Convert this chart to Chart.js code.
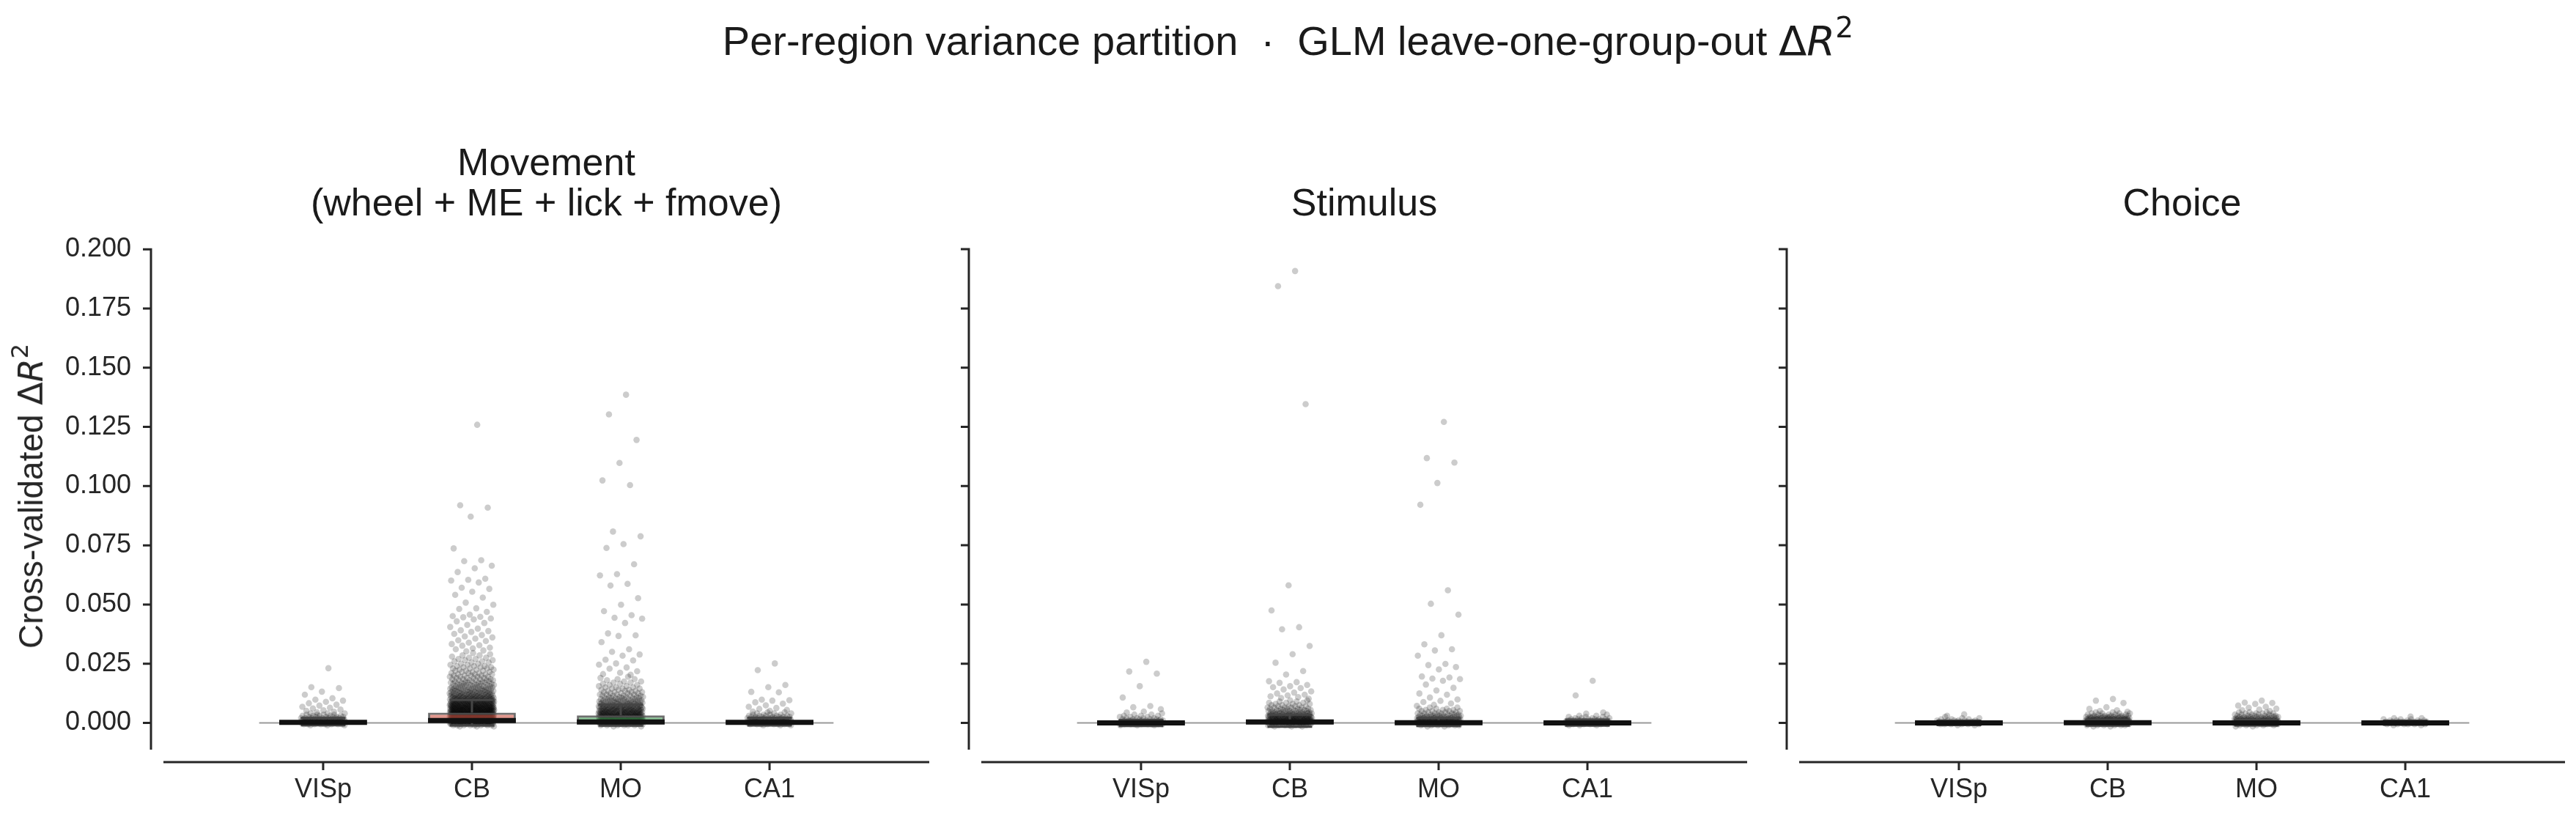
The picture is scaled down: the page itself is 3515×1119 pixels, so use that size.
<!DOCTYPE html>
<html>
<head>
<meta charset="utf-8">
<script src="https://cdn.jsdelivr.net/npm/chart.js@4.4.1/dist/chart.umd.min.js"></script>
<style>
html,body{margin:0;padding:0;background:#fff;}
#fig{position:relative;width:3515px;height:1119px;overflow:hidden;background:#fff;font-family:"Liberation Sans",Arial,Helvetica,sans-serif;color:#1a1a1a;}
canvas{position:absolute;top:0;display:block;}
#sup{position:absolute;left:0;top:28px;width:3515px;text-align:center;font-size:56px;line-height:1;white-space:pre;z-index:2;}
#ylab{position:absolute;left:42px;top:677px;font-size:46px;line-height:1;white-space:pre;transform:translate(-50%,-50%) rotate(-90deg);z-index:2;color:#262626;}
.m{font-family:"DejaVu Sans",sans-serif;}
.m sup{font-size:70%;position:relative;top:-0.62em;vertical-align:baseline;line-height:0;}
</style>
</head>
<body>
<div id="fig">
  <canvas id="p0" width="1283" height="1119" style="left:0px"></canvas>
  <canvas id="p1" width="1283" height="1119" style="left:1116px"></canvas>
  <canvas id="p2" width="1283" height="1119" style="left:2232px"></canvas>
  <div id="sup">Per-region variance partition  ·  GLM leave-one-group-out <span class="m">Δ<i>R</i><sup>2</sup></span></div>
  <div id="ylab">Cross-validated <span class="m">Δ<i>R</i><sup>2</sup></span></div>
</div>
<script>
// ---------------- data ----------------
const regions = ['VISp', 'CB', 'MO', 'CA1'];
const panelTitles = [['Movement', '(wheel + ME + lick + fmove)'], 'Stimulus', 'Choice'];
const yTickValues = [0.000, 0.025, 0.050, 0.075, 0.100, 0.125, 0.150, 0.175, 0.200];

// box statistics (q1, median, q3, lower/upper whisker)
const moveQ1  = [-0.0002, 0.0000, -0.0002, -0.0002];
const moveMed = [ 0.0002, 0.0010,  0.0004,  0.0002];
const moveQ3  = [ 0.0007, 0.0043,  0.0032,  0.0008];
const moveLo  = [-0.0010, -0.0011, -0.0012, -0.0011];
const moveHi  = [ 0.0021, 0.0097,  0.0077,  0.0022];

const stimQ1  = [-0.0005, -0.0005, -0.0005, -0.0005];
const stimMed = [ 0.0000,  0.0004,  0.0001,  0.0000];
const stimQ3  = [ 0.0005,  0.0015,  0.0010,  0.0006];
const stimLo  = [-0.0013, -0.0016, -0.0013, -0.0012];
const stimHi  = [ 0.0012,  0.0035,  0.0021,  0.0014];

const choiceQ1  = [-0.0004, -0.0004, -0.0004, -0.0004];
const choiceMed = [ 0.0000,  0.0001,  0.0000,  0.0000];
const choiceQ3  = [ 0.0003,  0.0005,  0.0005,  0.0003];
const choiceLo  = [-0.0009, -0.0012, -0.0011, -0.0008];
const choiceHi  = [ 0.0009,  0.0014,  0.0013,  0.0009];

// per-neuron ΔR²: sparse upper points listed one by one ("Tail"),
// the dense cloud near zero as [value, number of neurons] read from its darkness ("Core")
const moveVISpTail = [.0231,.0151,.0147,.0132,.0119,.0104,.0098,.0094,.0089,.0083,.0077,.0073,.0068,.0064,.0061,.0056,.0053,.0051,.0047,.0045];
const moveVISpCore = [[-.0010,3],[-.0005,8],[0,14],[.0005,16],[.0010,14],[.0015,11],[.0020,8],[.0025,6],[.0030,5],[.0035,4],[.0040,3]];
const moveCBTail = [.1259,.0919,.0909,.0871,.0737,.0687,.0683,.0664,.0653,.0637,.0609,.0604,.0601,.0593,.0571,.0566,.0554,.0541,.0529,.0508,.0499,.0484,.0481,.0469,.0457,.0451,.0448,.0446,.0441,.0437,.0429,.0422,.0414,.0405,.0398,.0391,.0388,.0384,.0376,.0371,.0365,.0361,.0356,.0349,.0346,.0339,.0333,.0328,.0326,.0318,.0315,.0311,.0306,.0302];
const moveCBCore = [[-.0015,3],[-.0010,8],[-.0005,14],[0,22],[.0005,26],[.0010,27],[.0015,27],[.0020,27],[.0025,27],[.0030,27],[.0035,27],[.0040,27],[.0045,26],[.0050,26],[.0055,25],[.0060,24],[.0065,23],[.0070,22],[.0075,20],[.0080,19],[.0085,17],[.0090,16],[.0095,15],[.0100,14],[.0105,13],[.0110,12],[.0115,11],[.0120,10],[.0125,9],[.0130,9],[.0135,8],[.0140,8],[.0145,7],[.0150,7],[.0155,6],[.0160,6],[.0165,6],[.0170,5],[.0175,5],[.0180,5],[.0185,4],[.0190,4],[.0195,4],[.0200,4],[.0205,4],[.0210,3],[.0215,3],[.0220,3],[.0225,3],[.0230,3],[.0235,3],[.0240,3],[.0245,2],[.0250,2],[.0255,2],[.0260,2],[.0265,2],[.0270,2],[.0275,2],[.0280,1],[.0285,2],[.0290,1],[.0295,1]];
const moveMOTail = [.1386,.1303,.1195,.1098,.1024,.1004,.0808,.0788,.0755,.0739,.0670,.0628,.0623,.0587,.0580,.0527,.0499,.0472,.0455,.0444,.0440,.0422,.0378,.0370,.0367,.0341,.0311,.0300,.0289,.0284,.0267,.0264,.0251,.0246,.0234,.0229,.0218,.0212,.0206,.0203];
const moveMOCore = [[-.0015,2],[-.0010,6],[-.0005,12],[0,20],[.0005,22],[.0010,22],[.0015,22],[.0020,21],[.0025,20],[.0030,19],[.0035,18],[.0040,17],[.0045,16],[.0050,15],[.0055,14],[.0060,13],[.0065,12],[.0070,11],[.0075,10],[.0080,9],[.0085,8],[.0090,8],[.0095,7],[.0100,6],[.0105,6],[.0110,5],[.0115,5],[.0120,4],[.0125,4],[.0130,4],[.0135,3],[.0140,3],[.0145,3],[.0150,3],[.0155,2],[.0160,2],[.0165,2],[.0170,2],[.0175,2],[.0180,1],[.0185,2],[.0190,1],[.0195,1]];
const moveCA1Tail = [.0251,.0223,.0160,.0151,.0131,.0129,.0098,.0096,.0094,.0087,.0081,.0074,.0068,.0063,.0059,.0055,.0051,.0048];
const moveCA1Core = [[-.0010,3],[-.0005,8],[0,14],[.0005,16],[.0010,14],[.0015,11],[.0020,9],[.0025,7],[.0030,5],[.0035,4],[.0040,3],[.0045,2]];

const stimVISpTail = [.0258,.0217,.0208,.0155,.0107,.0071,.0066,.0058,.0048,.0044];
const stimVISpCore = [[-.0010,3],[-.0005,8],[0,14],[.0005,13],[.0010,9],[.0015,6],[.0020,4],[.0025,3],[.0030,3],[.0035,2],[.0040,1]];
const stimCBTail = [.1908,.1844,.1346,.0581,.0475,.0404,.0395,.0325,.0290,.0254,.0219,.0204,.0176,.0172,.0169,.0160,.0155,.0151,.0147,.0141,.0133,.0128,.0124,.0119,.0116,.0112,.0109,.0105,.0102];
const stimCBCore = [[-.0015,3],[-.0010,8],[-.0005,14],[0,20],[.0005,22],[.0010,21],[.0015,19],[.0020,17],[.0025,15],[.0030,13],[.0035,11],[.0040,10],[.0045,8],[.0050,7],[.0055,6],[.0060,5],[.0065,5],[.0070,4],[.0075,3],[.0080,3],[.0085,3],[.0090,2],[.0095,2]];
const stimMOTail = [.1271,.1118,.1099,.1013,.0921,.0560,.0503,.0457,.0370,.0332,.0311,.0306,.0284,.0249,.0244,.0236,.0226,.0196,.0192,.0187,.0185,.0178,.0162,.0148,.0137,.0124,.0119,.0107,.0099,.0093,.0088,.0082,.0076,.0072];
const stimMOCore = [[-.0015,2],[-.0010,6],[-.0005,12],[0,17],[.0005,18],[.0010,16],[.0015,13],[.0020,11],[.0025,9],[.0030,8],[.0035,6],[.0040,5],[.0045,4],[.0050,4],[.0055,3],[.0060,3],[.0065,2]];
const stimCA1Tail = [.0178,.0116,.0044,.0039];
const stimCA1Core = [[-.0010,3],[-.0005,7],[0,12],[.0005,12],[.0010,9],[.0015,6],[.0020,4],[.0025,3],[.0030,2],[.0035,1]];

const choiceVISpTail = [.0036,.0030];
const choiceVISpCore = [[-.0010,2],[-.0005,6],[0,12],[.0005,10],[.0010,6],[.0015,3],[.0020,2],[.0025,1]];
const choiceCBTail = [.0101,.0094,.0084,.0066,.0059,.0053,.0050,.0047];
const choiceCBCore = [[-.0015,2],[-.0010,6],[-.0005,13],[0,20],[.0005,21],[.0010,19],[.0015,16],[.0020,13],[.0025,10],[.0030,7],[.0035,5],[.0040,4],[.0045,2]];
const choiceMOTail = [.0094,.0086,.0084,.0080,.0073,.0068,.0064,.0060,.0056,.0053,.0050];
const choiceMOCore = [[-.0015,2],[-.0010,5],[-.0005,11],[0,17],[.0005,18],[.0010,16],[.0015,13],[.0020,11],[.0025,8],[.0030,6],[.0035,5],[.0040,4],[.0045,3]];
const choiceCA1Tail = [.0027];
const choiceCA1Core = [[-.0010,2],[-.0005,6],[0,10],[.0005,8],[.0010,5],[.0015,3],[.0020,2]];

// ---------------- styles / layout ----------------
const FONT = '"Liberation Sans", Arial, Helvetica, sans-serif';
const TEXT = '#262626';
const X_MIN = -0.43, X_MAX = 3.43;
const Y_MIN = -0.0113, Y_MAX = 0.2;
const BOX_HALF = 0.295, CAP_HALF = 0.15, JITTER = 0.15;
const AXIS_LEFT = 223, RIGHT_PAD = 15, XAXIS_H = 96;
const SPINE_OFFSET = 17, TICK_LEN = 11, SPINE_W = 3;
const POINT_COLOR = 'rgba(0,0,0,0.2)';
const boxColors = ['rgba(70,120,190,0.6)', 'rgba(205,82,65,0.6)', 'rgba(63,155,80,0.6)', 'rgba(150,100,180,0.6)'];

Chart.defaults.font.family = FONT;

const spinePlugin = {
  id: 'offsetSpines',
  afterLayout(chart) {
    // y-axis labels live in the left padding area
    chart.scales.y.left = 0;
  },
  afterDraw(chart) {
    const {ctx, chartArea: a} = chart;
    const xs = chart.scales.x, ys = chart.scales.y;
    const sx = a.left - SPINE_OFFSET, sy = a.bottom + SPINE_OFFSET;
    ctx.save();
    ctx.strokeStyle = TEXT; ctx.lineWidth = SPINE_W; ctx.lineCap = 'butt';
    ctx.beginPath();
    ctx.moveTo(sx, a.top); ctx.lineTo(sx, a.bottom);
    ctx.moveTo(a.left, sy); ctx.lineTo(a.right, sy);
    ys.ticks.forEach(t => { const p = ys.getPixelForValue(t.value); ctx.moveTo(sx + SPINE_W / 2, p); ctx.lineTo(sx - TICK_LEN, p); });
    xs.ticks.forEach(t => { const p = xs.getPixelForValue(t.value); ctx.moveTo(p, sy - SPINE_W / 2); ctx.lineTo(p, sy + TICK_LEN); });
    ctx.stroke();
    ctx.restore();
  }
};

function jitter(k) {
  const f = ((k + 1) * 0.6180339887) % 1;
  return (f - 0.5) * 2 * JITTER;
}

// one entry per neuron: listed tail values plus the counted core values
function neurons(tail, core) {
  const vals = tail.slice();
  core.forEach(([v, n]) => { for (let j = 0; j < n; j++) vals.push(v); });
  return vals;
}

function buildPanel(id, title, q1, med, q3, lo, hi, groups, showY, padTop) {
  const datasets = [];
  datasets.push({
    type: 'line', data: [{x: X_MIN, y: 0}, {x: X_MAX, y: 0}],
    borderColor: '#9a9a9a', borderWidth: 2, pointRadius: 0, order: 6
  });
  groups.forEach((vals, i) => {
    datasets.push({
      type: 'scatter', data: vals.map((v, k) => ({x: i + jitter(k), y: v})),
      pointRadius: 4.3, pointBackgroundColor: POINT_COLOR, backgroundColor: POINT_COLOR,
      pointBorderWidth: 0, borderWidth: 0, order: 5
    });
  });
  datasets.push({
    type: 'bar', data: regions.map((r, i) => ({x: i, y: [q1[i], q3[i]]})),
    backgroundColor: boxColors, borderColor: 'rgba(85,85,85,0.85)', borderWidth: 3,
    borderSkipped: false, categoryPercentage: 1, barPercentage: 2 * BOX_HALF, order: 4
  });
  const whisk = [];
  regions.forEach((r, i) => {
    whisk.push({x: i, y: q3[i]}, {x: i, y: hi[i]}, {x: i, y: null},
               {x: i - CAP_HALF, y: hi[i]}, {x: i + CAP_HALF, y: hi[i]}, {x: i, y: null},
               {x: i, y: q1[i]}, {x: i, y: lo[i]}, {x: i, y: null},
               {x: i - CAP_HALF, y: lo[i]}, {x: i + CAP_HALF, y: lo[i]}, {x: i, y: null});
  });
  datasets.push({type: 'line', data: whisk, borderColor: '#454545', borderWidth: 3, pointRadius: 0, spanGaps: false, borderCapStyle: 'butt', order: 2});
  const meds = [];
  regions.forEach((r, i) => {
    meds.push({x: i - BOX_HALF, y: med[i]}, {x: i + BOX_HALF, y: med[i]}, {x: i, y: null});
  });
  datasets.push({type: 'line', data: meds, borderColor: '#111111', borderWidth: 7, pointRadius: 0, spanGaps: false, borderCapStyle: 'butt', order: 1});

  return new Chart(document.getElementById(id), {
    type: 'scatter',
    data: {datasets},
    options: {
      responsive: false, animation: false, devicePixelRatio: 1, events: [],
      layout: {padding: {left: AXIS_LEFT, right: RIGHT_PAD, top: padTop, bottom: 0}},
      plugins: {
        legend: {display: false}, tooltip: {enabled: false},
        title: {display: true, text: title, color: '#1a1a1a',
          font: {family: FONT, size: 52, weight: 'normal', lineHeight: 1.06},
          padding: {top: 0, bottom: 33}}
      },
      scales: {
        x: {
          type: 'linear', min: X_MIN, max: X_MAX,
          afterBuildTicks: s => { s.ticks = regions.map((r, i) => ({value: i})); },
          afterFit: s => { s.height = XAXIS_H; },
          grid: {display: false, drawTicks: false}, border: {display: false},
          ticks: {callback: v => regions[v], padding: 33, autoSkip: false, maxRotation: 0,
            color: TEXT, font: {family: FONT, size: 36}}
        },
        y: {
          type: 'linear', min: Y_MIN, max: Y_MAX,
          afterBuildTicks: s => { s.ticks = yTickValues.map(v => ({value: v})); },
          afterFit: s => { s.width = 0; },
          grid: {display: false, drawTicks: false}, border: {display: false},
          ticks: {display: showY, callback: v => v.toFixed(3), padding: 44,
            color: TEXT, font: {family: FONT, size: 36}}
        }
      }
    },
    plugins: [spinePlugin]
  });
}

buildPanel('p0', panelTitles[0], moveQ1, moveMed, moveQ3, moveLo, moveHi,
  [neurons(moveVISpTail, moveVISpCore), neurons(moveCBTail, moveCBCore), neurons(moveMOTail, moveMOCore), neurons(moveCA1Tail, moveCA1Core)], true, 197);
buildPanel('p1', panelTitles[1], stimQ1, stimMed, stimQ3, stimLo, stimHi,
  [neurons(stimVISpTail, stimVISpCore), neurons(stimCBTail, stimCBCore), neurons(stimMOTail, stimMOCore), neurons(stimCA1Tail, stimCA1Core)], false, 252);
buildPanel('p2', panelTitles[2], choiceQ1, choiceMed, choiceQ3, choiceLo, choiceHi,
  [neurons(choiceVISpTail, choiceVISpCore), neurons(choiceCBTail, choiceCBCore), neurons(choiceMOTail, choiceMOCore), neurons(choiceCA1Tail, choiceCA1Core)], false, 252);
</script>
</body>
</html>
